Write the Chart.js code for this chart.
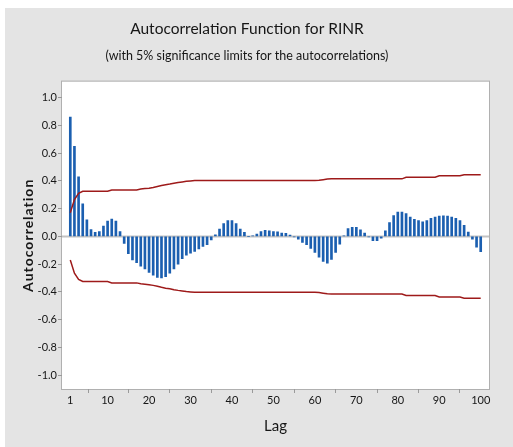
<!DOCTYPE html>
<html>
<head>
<meta charset="utf-8">
<script src="https://cdn.jsdelivr.net/npm/chart.js@4.4.1/dist/chart.umd.min.js"></script>
<style>
  html, body { margin: 0; padding: 0; background: #fff; }
  #acfChart { display: block; }
</style>
</head>
<body>
<canvas id="acfChart" width="513" height="447"></canvas>
<script>
// lag numbers on the x axis
const lags = Array.from({ length: 100 }, (_, i) => i + 1);

// autocorrelation per lag
const acf = [
  0.86, 0.65, 0.43, 0.235, 0.12, 0.05, 0.03, 0.035, 0.075, 0.11,
  0.125, 0.11, 0.035, -0.05, -0.125, -0.17, -0.19, -0.215, -0.235, -0.26,
  -0.28, -0.295, -0.3, -0.29, -0.265, -0.235, -0.2, -0.16, -0.135, -0.12,
  -0.108, -0.09, -0.072, -0.06, -0.025, 0.012, 0.053, 0.092, 0.115, 0.115,
  0.092, 0.053, 0.03, 0.0, 0.003, 0.017, 0.035, 0.043, 0.041, 0.034,
  0.033, 0.024, 0.022, 0.01, -0.003, -0.02, -0.043, -0.06, -0.087, -0.116,
  -0.15, -0.18, -0.193, -0.165, -0.116, -0.056, 0.003, 0.056, 0.065, 0.065,
  0.048, 0.024, -0.003, -0.03, -0.03, -0.012, 0.04, 0.1, 0.15, 0.175,
  0.175, 0.165, 0.14, 0.123, 0.114, 0.106, 0.114, 0.13, 0.14, 0.147,
  0.148, 0.147, 0.14, 0.13, 0.114, 0.08, 0.031, -0.02, -0.077, -0.11
];

// 5% significance limits per lag
const upperLimit = [
  0.17, 0.265, 0.31, 0.325, 0.325, 0.325, 0.325, 0.325, 0.325, 0.325,
  0.335, 0.335, 0.335, 0.335, 0.335, 0.335, 0.335, 0.342, 0.345, 0.348,
  0.353, 0.36, 0.367, 0.373, 0.378, 0.384, 0.389, 0.393, 0.397, 0.4,
  0.403, 0.403, 0.403, 0.403, 0.403, 0.403, 0.403, 0.403, 0.403, 0.403,
  0.403, 0.403, 0.403, 0.403, 0.403, 0.403, 0.403, 0.403, 0.403, 0.403,
  0.403, 0.403, 0.403, 0.403, 0.403, 0.403, 0.403, 0.403, 0.403, 0.403,
  0.405, 0.409, 0.413, 0.415, 0.415, 0.415, 0.415, 0.415, 0.415, 0.415,
  0.415, 0.415, 0.415, 0.415, 0.415, 0.415, 0.415, 0.415, 0.415, 0.415,
  0.415, 0.426, 0.426, 0.426, 0.426, 0.426, 0.426, 0.426, 0.426, 0.437,
  0.437, 0.437, 0.437, 0.437, 0.437, 0.445, 0.445, 0.445, 0.445, 0.445
];
const lowerLimit = [
  -0.17, -0.265, -0.31, -0.325, -0.325, -0.325, -0.325, -0.325, -0.325, -0.325,
  -0.335, -0.335, -0.335, -0.335, -0.335, -0.335, -0.335, -0.342, -0.345, -0.348,
  -0.353, -0.36, -0.367, -0.373, -0.378, -0.384, -0.389, -0.393, -0.397, -0.4,
  -0.403, -0.403, -0.403, -0.403, -0.403, -0.403, -0.403, -0.403, -0.403, -0.403,
  -0.403, -0.403, -0.403, -0.403, -0.403, -0.403, -0.403, -0.403, -0.403, -0.403,
  -0.403, -0.403, -0.403, -0.403, -0.403, -0.403, -0.403, -0.403, -0.403, -0.403,
  -0.405, -0.409, -0.413, -0.415, -0.415, -0.415, -0.415, -0.415, -0.415, -0.415,
  -0.415, -0.415, -0.415, -0.415, -0.415, -0.415, -0.415, -0.415, -0.415, -0.415,
  -0.415, -0.426, -0.426, -0.426, -0.426, -0.426, -0.426, -0.426, -0.426, -0.437,
  -0.437, -0.437, -0.437, -0.437, -0.437, -0.445, -0.445, -0.445, -0.445, -0.445
];

const lagTicks = [1, 10, 20, 30, 40, 50, 60, 70, 80, 90, 100];
const acfTicks = [-1.0, -0.8, -0.6, -0.4, -0.2, 0.0, 0.2, 0.4, 0.6, 0.8, 1.0];

const textColor = '#161616';
const fontFamily = 'Lato, "Liberation Sans", sans-serif';
const yTitle = 'Autocorrelation';

// gray panel, white plot box, zero line and the spaced y title
const panelBackground = {
  id: 'panelBackground',
  beforeDraw(chart) {
    const { ctx, chartArea: a } = chart;
    ctx.save();
    ctx.fillStyle = '#e4e4e4';
    ctx.fillRect(5, 8, chart.width - 5, chart.height - 8);
    ctx.fillStyle = '#ffffff';
    ctx.fillRect(a.left, a.top, a.right - a.left, a.bottom - a.top);
    ctx.strokeStyle = '#b0b0b0';
    ctx.lineWidth = 1;
    ctx.strokeRect(a.left - 0.5, a.top - 0.5, a.right - a.left + 1, a.bottom - a.top + 1);
    ctx.restore();
  },
  beforeDatasetsDraw(chart) {
    const { ctx, chartArea: a, scales } = chart;
    const y0 = scales.y.getPixelForValue(0);
    ctx.save();
    ctx.strokeStyle = '#c4c4c4';
    ctx.lineWidth = 2;
    ctx.beginPath();
    ctx.moveTo(a.left, y0);
    ctx.lineTo(a.right, y0);
    ctx.stroke();
    ctx.restore();
  },
  afterDraw(chart) {
    const { ctx, chartArea: a } = chart;
    ctx.save();
    ctx.translate(28, (a.top + a.bottom) / 2);
    ctx.rotate(-Math.PI / 2);
    ctx.font = 'bold 14px Lato, sans-serif';
    ctx.letterSpacing = '1px';
    ctx.fillStyle = textColor;
    ctx.textAlign = 'center';
    ctx.textBaseline = 'middle';
    ctx.fillText(yTitle, 0, 0);
    ctx.restore();
  }
};

function points(values) {
  return lags.map((lag, i) => ({ x: lag, y: values[i] }));
}

const ctx = document.getElementById('acfChart').getContext('2d');
new Chart(ctx, {
  type: 'bar',
  data: {
    datasets: [
      {
        type: 'line',
        label: 'Upper limit',
        data: points(upperLimit),
        borderColor: '#9e1a1a',
        borderWidth: 1.5,
        pointRadius: 0,
        tension: 0,
        order: 1
      },
      {
        type: 'line',
        label: 'Lower limit',
        data: points(lowerLimit),
        borderColor: '#9e1a1a',
        borderWidth: 1.5,
        pointRadius: 0,
        tension: 0,
        order: 1
      },
      {
        type: 'bar',
        label: 'ACF',
        data: points(acf),
        backgroundColor: '#1b5fb0',
        barThickness: 2,
        order: 2
      }
    ]
  },
  options: {
    responsive: false,
    animation: false,
    layout: { padding: { left: 5, right: 24, top: 8, bottom: 0 } },
    plugins: {
      legend: { display: false },
      tooltip: { enabled: false },
      title: {
        display: true,
        text: 'Autocorrelation Function for RINR',
        color: textColor,
        font: { family: fontFamily, size: 15.5, weight: 'normal' },
        padding: { top: 12, bottom: 8 }
      },
      subtitle: {
        display: true,
        text: '(with 5% significance limits for the autocorrelations)',
        color: textColor,
        font: { family: fontFamily, size: 12.5, weight: 'normal' },
        padding: { top: 2, bottom: 18 }
      }
    },
    scales: {
      x: {
        type: 'linear',
        min: -1,
        max: 102,
        offset: false,
        afterBuildTicks: s => { s.ticks = lagTicks.map(v => ({ value: v })); },
        afterFit: s => { s.height = 58; },
        border: { display: false },
        grid: { drawOnChartArea: false, drawTicks: true, tickLength: 4, color: '#9a9a9a' },
        ticks: {
          autoSkip: false,
          maxRotation: 0,
          padding: 1,
          color: textColor,
          font: { family: fontFamily, size: 11 },
          callback: v => String(v)
        },
        title: {
          display: true,
          text: 'Lag',
          color: textColor,
          font: { family: fontFamily, size: 15 },
          padding: { top: 4, bottom: 12 }
        }
      },
      y: {
        min: -1.1,
        max: 1.116,
        afterBuildTicks: s => { s.ticks = acfTicks.map(v => ({ value: v })); },
        afterFit: s => { s.width = 57; },
        border: { display: false },
        grid: { drawOnChartArea: false, drawTicks: true, tickLength: 4, color: '#9a9a9a' },
        ticks: {
          padding: 1,
          color: textColor,
          font: { family: fontFamily, size: 11 },
          callback: v => Number(v).toFixed(1)
        }
      }
    }
  },
  plugins: [panelBackground]
});
</script>
</body>
</html>
